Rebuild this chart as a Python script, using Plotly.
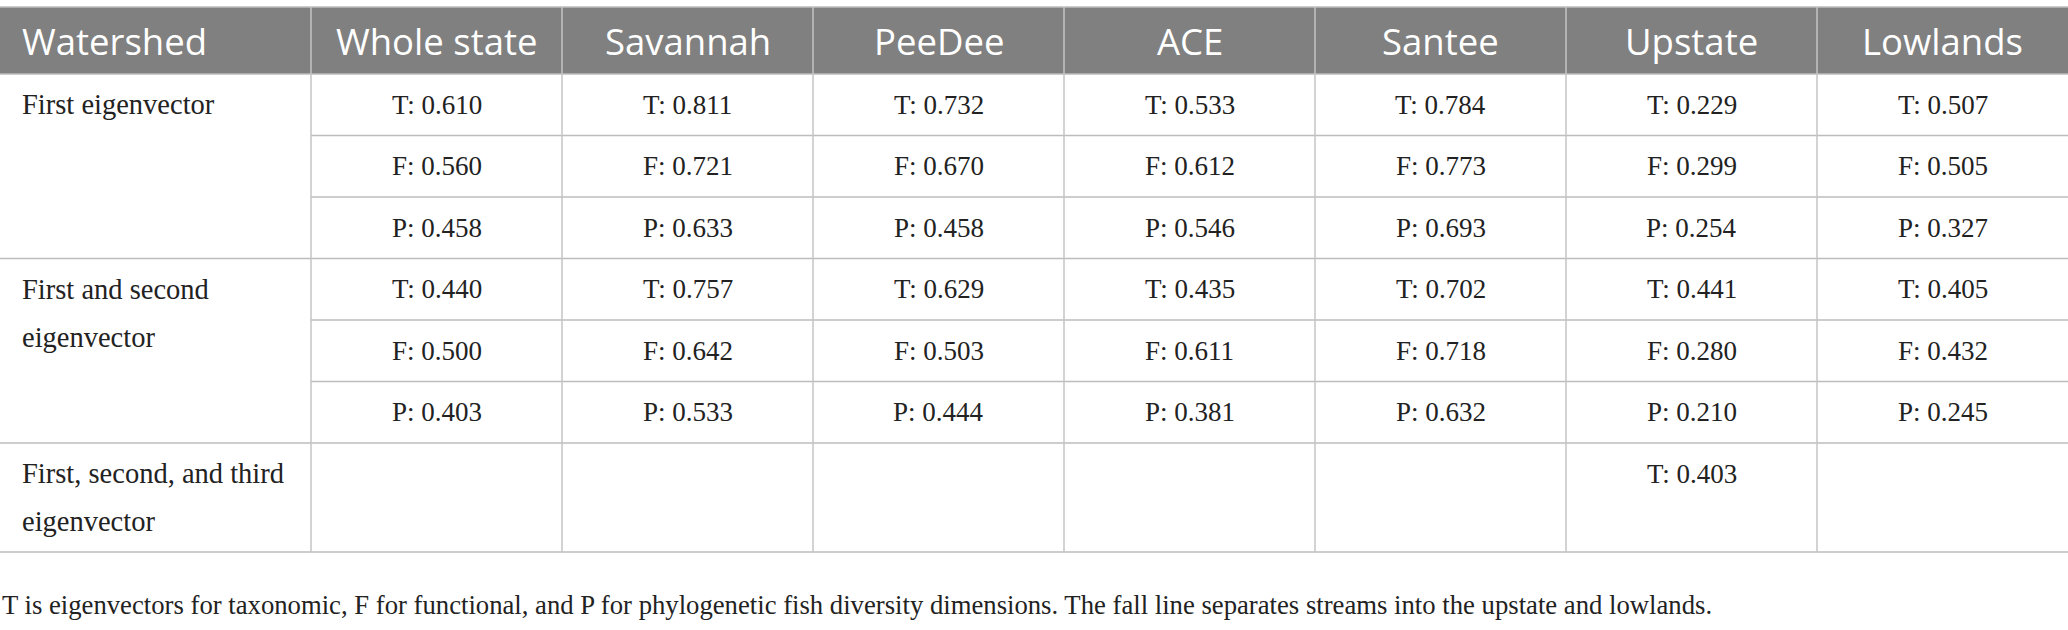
import plotly.graph_objects as go

# table content
watersheds = ["Whole state", "Savannah", "PeeDee", "ACE", "Santee", "Upstate", "Lowlands"]
row_groups = [
    ["First eigenvector"],
    ["First and second", "eigenvector"],
    ["First, second, and third", "eigenvector"],
]
first_T = [0.610, 0.811, 0.732, 0.533, 0.784, 0.229, 0.507]
first_F = [0.560, 0.721, 0.670, 0.612, 0.773, 0.299, 0.505]
first_P = [0.458, 0.633, 0.458, 0.546, 0.693, 0.254, 0.327]
second_T = [0.440, 0.757, 0.629, 0.435, 0.702, 0.441, 0.405]
second_F = [0.500, 0.642, 0.503, 0.611, 0.718, 0.280, 0.432]
second_P = [0.403, 0.533, 0.444, 0.381, 0.632, 0.210, 0.245]
third_T = [None, None, None, None, None, 0.403, None]
footnote = ("T is eigenvectors for taxonomic, F for functional, and P for phylogenetic fish "
            "diversity dimensions. The fall line separates streams into the upstate and lowlands.")

groups = [
    [("T", first_T), ("F", first_F), ("P", first_P)],
    [("T", second_T), ("F", second_F), ("P", second_P)],
    [("T", third_T)],
]

# layout (pixel units)
W, H = 2068, 630
top = 7
header_h = 67
sub_h = 61.5
last_h = 109
first_w = 311
col_w = (W - first_w) / len(watersheds)
line_gap = 48
grid = "#bdbdbd"
header_bg = "#808080"
text_c = "#222222"
serif = "Liberation Serif"
sans = "Open Sans"

fig = go.Figure()

col_x = [first_w + i * col_w for i in range(len(watersheds) + 1)]


def label(x, y, text, size, color, family, anchor="center"):
    fig.add_annotation(x=x, y=y, text=text, showarrow=False, xanchor=anchor,
                       yanchor="middle", font=dict(family=family, size=size, color=color))


# header
fig.add_shape(type="rect", x0=0, x1=W, y0=top, y1=top + header_h,
              fillcolor=header_bg, line=dict(width=0), layer="below")
label(20, top + header_h / 2, "Watershed", 36.5, "white", sans, "left")
for i, name in enumerate(watersheds):
    label(col_x[i] + col_w / 2, top + header_h / 2, name, 36.5, "white", sans)

# body
y = top + header_h
bounds = [y]
for labels, rows in zip(row_groups, groups):
    g_top = y
    g_h = last_h if len(rows) == 1 else sub_h * len(rows)
    for k, line in enumerate(labels):
        label(20, g_top + sub_h / 2 + k * line_gap, line, 28.5, text_c, serif, "left")
    for r, (letter, vals) in enumerate(rows):
        cy = g_top + r * sub_h + sub_h / 2
        for i, v in enumerate(vals):
            if v is None:
                continue
            label(col_x[i] + col_w / 2, cy, f"{letter}: {v:.3f}", 27, text_c, serif)
        if r > 0:
            fig.add_shape(type="line", x0=first_w, x1=W, y0=g_top + r * sub_h,
                          y1=g_top + r * sub_h, line=dict(color=grid, width=1.5))
    y = g_top + g_h
    bounds.append(y)

# horizontal rules
for b in [top] + bounds:
    fig.add_shape(type="line", x0=0, x1=W, y0=b, y1=b, line=dict(color=grid, width=1.5))
# vertical rules
for x in col_x[:-1]:
    fig.add_shape(type="line", x0=x, x1=x, y0=top, y1=bounds[-1],
                  line=dict(color="#c4c4c4", width=1.5))

label(0, bounds[-1] + 53, footnote, 26.7, text_c, serif, "left")

fig.update_xaxes(range=[0, W], visible=False, fixedrange=True)
fig.update_yaxes(range=[H, 0], visible=False, fixedrange=True)
fig.update_layout(width=W, height=H, margin=dict(l=0, r=0, t=0, b=0),
                  plot_bgcolor="white", paper_bgcolor="white", showlegend=False)

fig.write_html("out.html", config={"displayModeBar": False},
               post_script="document.body.style.margin='0';")
